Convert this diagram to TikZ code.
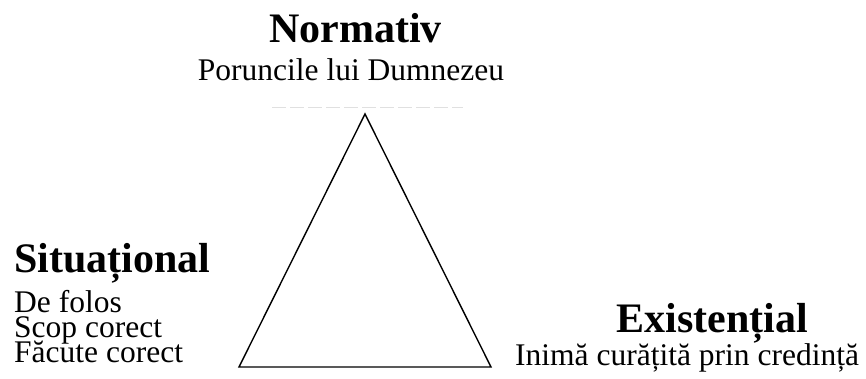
\documentclass[tikz,border=0pt]{standalone}
\usepackage{fontspec}
\setmainfont{Liberation Serif}
\begin{document}
\begin{tikzpicture}[x=1pt,y=-1pt,
  title/.style={font=\fontsize{42}{48}\selectfont\bfseries,inner sep=0pt},
  body/.style={font=\fontsize{31.5}{36}\selectfont,inner sep=0pt},
  edge/.style={draw=black,line width=1.4pt,line join=miter}]
\useasboundingbox[fill=white] (0,0) rectangle (866,379);
% triangle
\coordinate (top) at (365,114);
\coordinate (bl) at (239,367);
\coordinate (br) at (491,367);
\draw[edge] (top) -- (br) -- (bl) -- cycle;
% faint remnant line
\coordinate (fa) at (272,108);
\coordinate (fb) at (463,108);
\draw[black!12,line width=1pt,dash pattern=on 14pt off 4pt] (fa) -- (fb);
% labels
\node[title,anchor=base] (norm) at (355.5,43) {Normativ};
\node[body,anchor=base] (nsub) at (351,81) {Poruncile lui Dumnezeu};
\node[title,anchor=base west] (sit) at (14,272) {Situațional};
\node[body,anchor=base west] (s1) at (14,312) {De folos};
\node[body,anchor=base west] (s2) at (14,337) {Scop corect};
\node[body,anchor=base west] (s3) at (14,362) {Făcute corect};
\node[title,anchor=base] (ex) at (712,332) {Existențial};
\node[body,anchor=base west] (esub) at (515,365) {Inimă curățită prin credință};
\end{tikzpicture}
\end{document}
